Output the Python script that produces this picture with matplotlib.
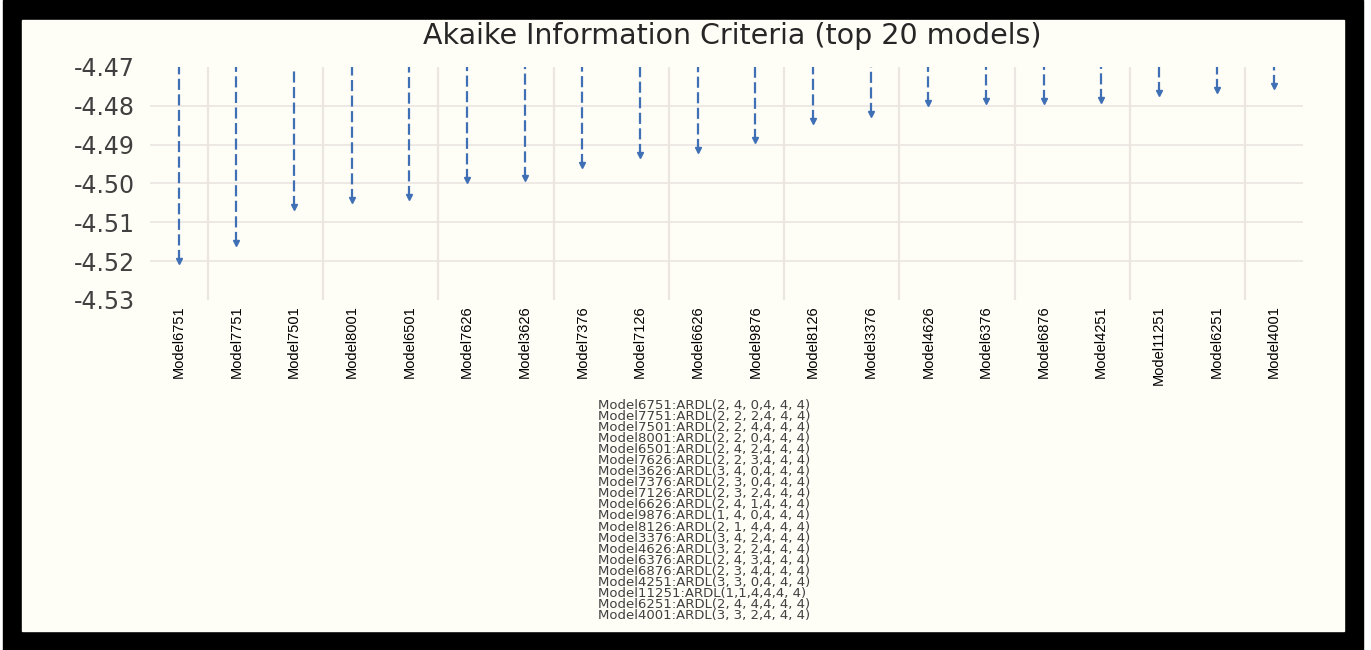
import numpy as np
import matplotlib.pyplot as plt
from matplotlib.patches import Rectangle

# top 20 models by AIC
models = ['Model6751', 'Model7751', 'Model7501', 'Model8001', 'Model6501',
          'Model7626', 'Model3626', 'Model7376', 'Model7126', 'Model6626',
          'Model9876', 'Model8126', 'Model3376', 'Model4626', 'Model6376',
          'Model6876', 'Model4251', 'Model11251', 'Model6251', 'Model4001']
aic = [-4.5200, -4.5152, -4.5060, -4.5042, -4.5034,
       -4.4990, -4.4985, -4.4952, -4.4926, -4.4913,
       -4.4888, -4.4839, -4.4821, -4.4793, -4.4788,
       -4.4787, -4.4785, -4.4767, -4.4759, -4.4749]
ardl = ['2, 4, 0,4, 4, 4', '2, 2, 2,4, 4, 4', '2, 2, 4,4, 4, 4', '2, 2, 0,4, 4, 4',
        '2, 4, 2,4, 4, 4', '2, 2, 3,4, 4, 4', '3, 4, 0,4, 4, 4', '2, 3, 0,4, 4, 4',
        '2, 3, 2,4, 4, 4', '2, 4, 1,4, 4, 4', '1, 4, 0,4, 4, 4', '2, 1, 4,4, 4, 4',
        '3, 4, 2,4, 4, 4', '3, 2, 2,4, 4, 4', '2, 4, 3,4, 4, 4', '2, 3, 4,4, 4, 4',
        '3, 3, 0,4, 4, 4', '1,1,4,4,4, 4', '2, 4, 4,4, 4, 4', '3, 3, 2,4, 4, 4']
yticks = [-4.47, -4.48, -4.49, -4.50, -4.51, -4.52, -4.53]

W, H = 1371, 650
fig = plt.figure(figsize=(W/100, H/100), dpi=100)
fig.patch.set_facecolor('white')
# black frame and cream panel
fig.patches.append(Rectangle((3/W, 0), 1360/W, 1, transform=fig.transFigure,
                             color='black', zorder=-2))
fig.patches.append(Rectangle((22/W, 19/H), 1322/W, 611/H, transform=fig.transFigure,
                             color='#fefdf6', zorder=-1))

ax = fig.add_axes([150/W, 350/H, 1153/W, 233/H])
ax.set_facecolor('none')
x = np.arange(len(models))
top = -4.47
blue = '#3f6fb5'
ax.vlines(x, aic, top, colors=blue, linestyles=(0, (5, 2)), linewidth=1.6, zorder=3)
ax.plot(x, aic, linestyle='none', marker='v', markersize=5, color=blue, zorder=4)

ax.set_xlim(-0.5, len(models) - 0.5)
ax.set_ylim(-4.53, -4.47)
ax.set_yticks(yticks)
ax.set_yticklabels(['%.2f' % v for v in yticks], fontsize=17, color='#404040')
for v in yticks[1:-1]:
    ax.axhline(v, color='#ece6e2', linewidth=1.2, zorder=1)
for b in np.arange(0.5, len(models) - 1, 2):
    ax.axvline(b, color='#ece6e2', linewidth=1.6, zorder=1)
ax.set_xticks(x)
ax.set_xticklabels(models, rotation=90, fontsize=10.5, color='black',
                   family=['Liberation Sans Narrow', 'Liberation Sans'])
ax.tick_params(length=0)
ax.tick_params(axis='y', pad=11)
ax.tick_params(axis='x', pad=4)
for s in ax.spines.values():
    s.set_visible(False)

fig.text(732/W, 1 - 36/H, 'Akaike Information Criteria (top 20 models)',
         ha='center', va='center', fontsize=20.5, color='#262626')

# model key below the chart
for i, (m, p) in enumerate(zip(models, ardl)):
    fig.text(598/W, 1 - (405 + i*11.1)/H, m + ':ARDL(' + p + ')',
             ha='left', va='center', fontsize=9.5, color='#404040')

fig.savefig('out.png', dpi=100)
